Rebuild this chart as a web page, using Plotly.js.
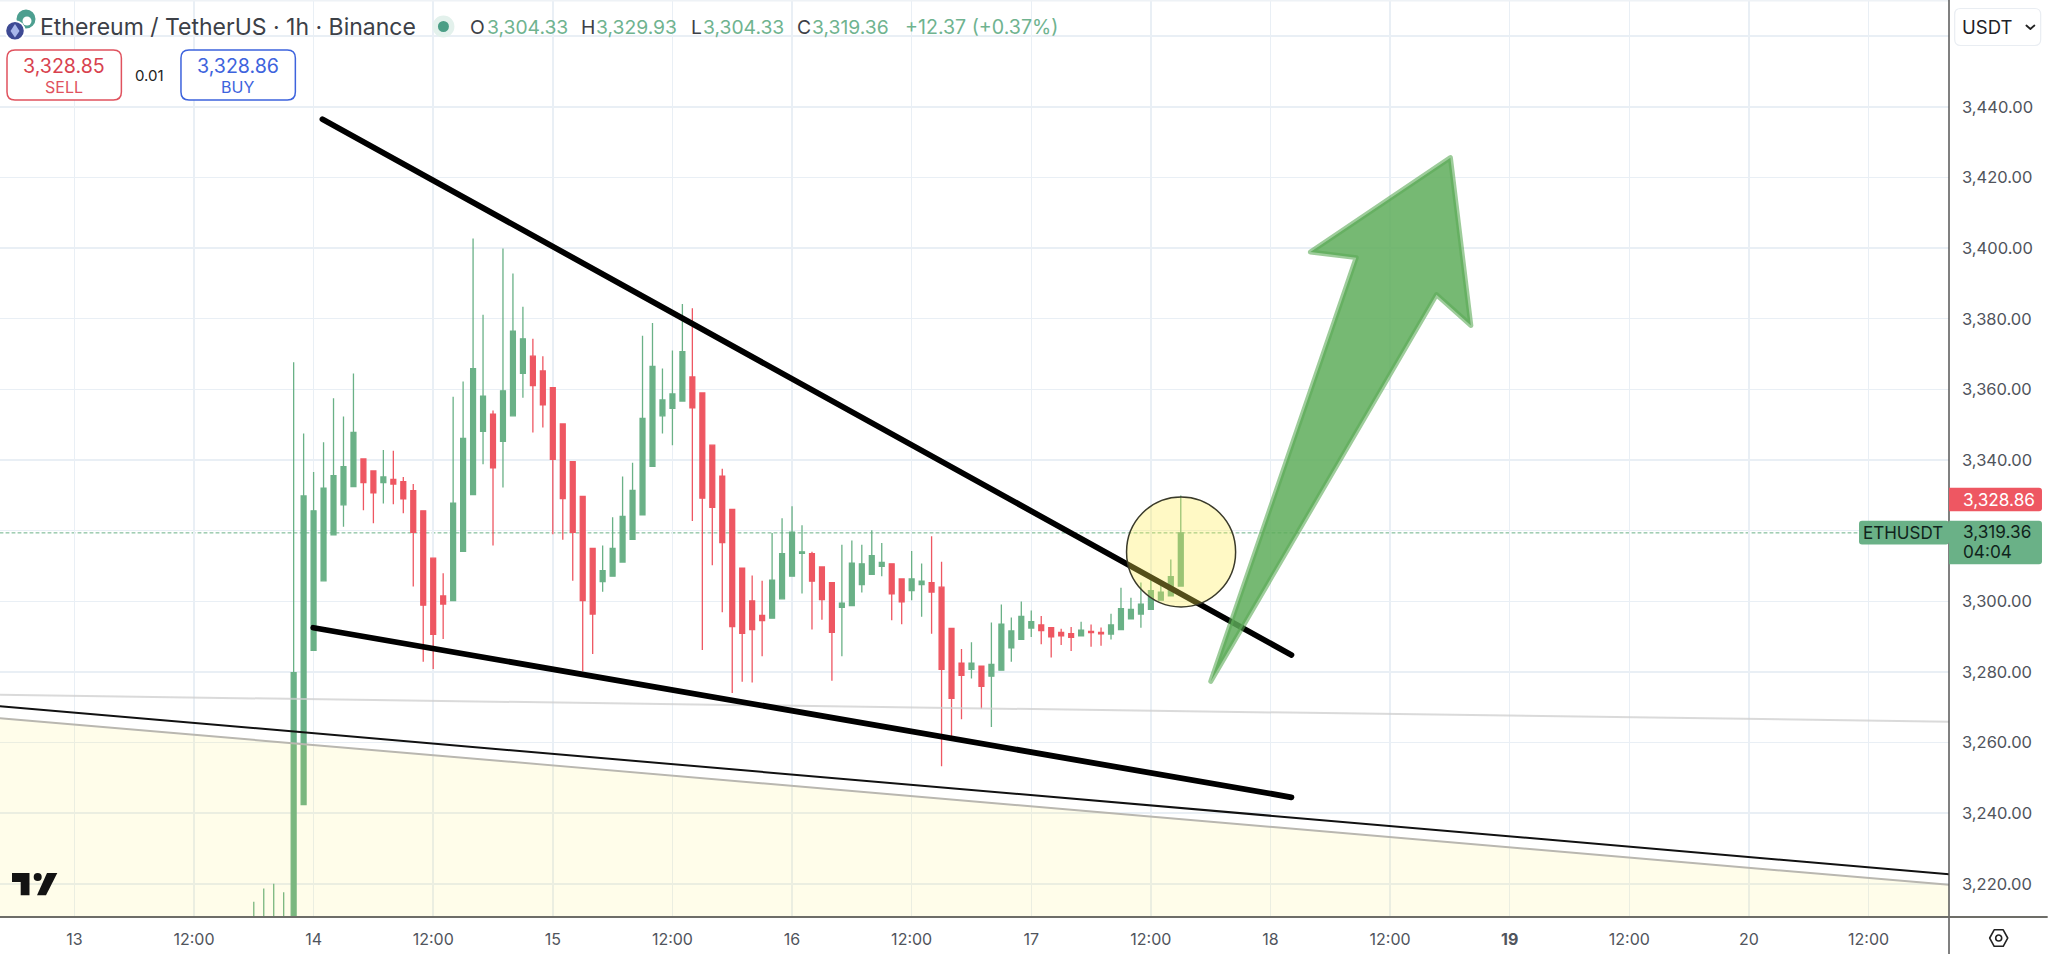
<!DOCTYPE html>
<html><head><meta charset="utf-8">
<script src="https://cdn.plot.ly/plotly-3.0.1.min.js"></script>
<style>html,body{margin:0;padding:0;background:#fff;overflow:hidden}#chart{width:2048px;height:954px}</style>
</head><body><div id="chart"></div>
<script>
// Hours are counted from day 13, 00:00
const firstHour = 18;
const opens = [3195,3196,3197,3198,3200,3242.4,3286.1,3305.8,3318.8,3327.3,3332.5,3340.3,3336.9,3333.6,3334.5,3333.9,3331.3,3325.6,3312.2,3301.5,3300.2,3314.1,3330.2,3348.1,3353,3345.3,3352.5,3364.5,3369.4,3365.2,3360.5,3350.2,3339.5,3329.7,3315,3305.6,3307.1,3311.1,3317.5,3324.5,3338.2,3352.5,3354.6,3356.7,3363.5,3359,3344.2,3335.4,3326,3309.4,3300.1,3296,3295.2,3300.7,3307.1,3313.6,3313.5,3309.7,3305.3,3298.3,3298.8,3304.7,3307.6,3309.9,3310.6,3306.3,3303,3304.7,3305.3,3304,3292.3,3282.5,3280.7,3281.6,3278.8,3280.5,3286.8,3289.2,3292.4,3293.3,3292.5,3291.2,3290.8,3290.2,3291.5,3291.2,3290.7,3292,3295,3296.4,3297.7,3300.3,3301.5,3304.33];
const highs = [3214.9,3218.7,3220,3217.6,3367.7,3347.5,3336.6,3345,3357.5,3352.3,3364.5,3340.3,3336.9,3342.8,3342.6,3335.2,3333.2,3325.6,3312.2,3307.9,3357.9,3362.2,3402.7,3381.1,3354,3399.9,3392.8,3383.4,3374.3,3369.4,3360.5,3350.2,3339.5,3329.7,3315,3315.8,3323.8,3335.3,3339.2,3375.2,3378.8,3365.9,3371,3384.2,3383,3359,3344.2,3337.5,3326,3309.4,3307.3,3305.8,3319.3,3323.5,3326.9,3321.5,3314,3309.7,3305.3,3316,3317.2,3316,3320.1,3316.5,3310.6,3306.3,3314.2,3310.7,3318.4,3311.2,3292.3,3286.5,3288.4,3281.6,3294,3299.1,3295.4,3299.9,3297.4,3295.8,3292.5,3292.2,3292.7,3294.2,3293.4,3292.6,3296.5,3303.8,3301,3305.3,3306.9,3305,3311.8,3329.93];
const lows = [3190,3190,3190,3190,3195,3242.4,3286.1,3305.8,3318.8,3321.1,3332.5,3325.8,3322.1,3327.7,3327.5,3324.9,3304.2,3282.9,3280.8,3289.3,3300.2,3314.1,3330.2,3338.8,3315.8,3332.2,3352.5,3357.6,3347.8,3349.2,3319,3317.4,3305.8,3280.2,3285.1,3302.7,3307.1,3311.1,3317.5,3324.5,3338.2,3347.5,3344.2,3356.7,3322.7,3286.2,3310.2,3296.9,3274,3277.2,3277,3284.4,3295.2,3300.7,3307.1,3302.2,3292,3294.8,3277.5,3284.4,3298.8,3302.5,3307.6,3307.1,3294.6,3293.5,3300.3,3295.6,3290.8,3253.3,3260.5,3266.6,3278.1,3269.6,3264.4,3280.5,3282.9,3289.2,3289.9,3287.8,3284.1,3287.6,3285.9,3290,3287.1,3287.4,3289.2,3292,3295,3292.5,3297.7,3300.3,3301.5,3304.33];
const closes = [3205,3206,3207,3208,3279.8,3329.8,3325.6,3332,3335.6,3338.1,3347.8,3333.6,3330.7,3335.2,3333.2,3329,3319.5,3298.9,3290.6,3299.2,3327.8,3346.1,3365.9,3358.1,3337.8,3359.6,3376.5,3374.3,3361.1,3355.6,3340.2,3329.1,3319.5,3300.2,3296.4,3308.7,3315,3324,3331.4,3351.8,3366.5,3357,3358.7,3370.7,3354.8,3329.2,3326.6,3316.6,3292.8,3290.9,3292,3294.5,3306,3313.5,3319.6,3314,3305.7,3300.5,3291.2,3299.5,3310.8,3310.6,3312.9,3311,3302.1,3299.8,3306.3,3305.7,3302.6,3280.7,3272.5,3279,3282.5,3275.9,3282.1,3293.5,3291.6,3295.7,3294.2,3291.7,3289.9,3290.2,3289.8,3291.8,3291.1,3290.8,3293.3,3297.9,3297.7,3299.2,3303,3302.6,3307,3319.36];
const hours = opens.map((_, i) => firstHour + i);

const xTickVals = [0,12,24,36,48,60,72,84,96,108,120,132,144,156,168,180];
const xTickText = ['13','12:00','14','12:00','15','12:00','16','12:00','17','12:00','18','12:00','<b>19</b>','12:00','20','12:00'];
const yTickVals = [3220,3240,3260,3280,3300,3320,3340,3360,3380,3400,3420,3440,3460];
const yTickText = ['3,220.00','3,240.00','3,260.00','3,280.00','3,300.00','','3,340.00','3,360.00','3,380.00','3,400.00','3,420.00','3,440.00',''];

// Hand-drawn overlays, in chart coordinates [hour, price]
const upperTrend = [[24.89,3436.5],[122.1,3284.8]];
const lowerTrend = [[23.97,3292.5],[122.1,3244.5]];
const zoneBlack = [[-7.46,3270.3],[188.07,3222.7]];
const zoneEdge = [[-7.46,3266.9],[188.07,3219.7]];
const zoneLight = [[-7.46,3273.5],[188.07,3265.9]];
const arrowPts = [[114.0,3277.3],[128.6,3397.3],[124.0,3398.9],[138.05,3425.6],[140.1,3378.1],[136.65,3386.8]];
const circleBox = [105.56,3329.55,116.5,3298.4];
const lastClose = 3319.36;
const xRange = [-7.46,188.07], yRange = [3210.6,3470.25];

const GREEN='#6ab187', RED='#ee5762', PW=1949.3, PH=916.7;
const px = x => x/PW, py = y => 1-y/PH;
const polyPath = pts => 'M'+pts.map(p=>p[0]+','+p[1]).join('L')+'Z';
const pixPoly = pts => polyPath(pts.map(p=>[px(p[0]),py(p[1])]));
function rrect(x0,y0,x1,y1,r,rl){
  const a=rl===false?0:r;
  const d=(X,Y)=>px(X)+','+py(Y);
  return 'M'+d(x0+a,y0)+'L'+d(x1-r,y0)+'Q'+d(x1,y0)+' '+d(x1,y0+r)+'L'+d(x1,y1-r)+'Q'+d(x1,y1)+' '+d(x1-r,y1)+'L'+d(x0+a,y1)+
    'Q'+d(x0,y1)+' '+d(x0,y1-a)+'L'+d(x0,y0+a)+'Q'+d(x0,y0)+' '+d(x0+a,y0)+'Z';
}
const pShape=(path,fill,lineColor,w)=>({type:'path',xref:'paper',yref:'paper',path,fillcolor:fill||'rgba(0,0,0,0)',line:{color:lineColor||'rgba(0,0,0,0)',width:w||0}});
const pCircle=(cx,cy,r,fill,lineColor,w)=>({type:'circle',xref:'paper',yref:'paper',x0:px(cx-r),x1:px(cx+r),y0:py(cy+r),y1:py(cy-r),fillcolor:fill,line:{color:lineColor||'rgba(0,0,0,0)',width:w||0}});
const seg=(a,color,w,extra)=>Object.assign({type:'line',xref:'x',yref:'y',x0:a[0][0],y0:a[0][1],x1:a[1][0],y1:a[1][1],line:{color,width:w}},extra||{});

const zoneBottom = yRange[0];
const shapes = [
  seg(zoneLight,'rgba(205,205,205,0.75)',2),
  seg([[xRange[0],lastClose],[xRange[1],lastClose]],GREEN,1,{layer:'below',line:{color:GREEN,width:1,dash:'dot'}}),
  {type:'path',xref:'x',yref:'y',path:polyPath([zoneEdge[0],zoneEdge[1],[xRange[1],zoneBottom],[xRange[0],zoneBottom]]),fillcolor:'rgba(255,235,60,0.11)',line:{width:0}},
  seg(zoneEdge,'#b9b7b0',2),
  seg(zoneBlack,'#111111',2),
  seg(upperTrend,'#000000',5.8),
  seg(lowerTrend,'#000000',5.8),
  {type:'circle',xref:'x',yref:'y',x0:circleBox[0],y0:circleBox[1],x1:circleBox[2],y1:circleBox[3],fillcolor:'rgba(255,236,80,0.33)',line:{color:'#3a3a2a',width:1.5}},
  {type:'path',xref:'x',yref:'y',path:polyPath(arrowPts),fillcolor:'rgba(92,172,88,0.84)',line:{color:'rgba(92,170,86,0.6)',width:5}},
  pShape(pixPoly([[0,0],[PW,0],[PW,1.5],[0,1.5]]),'#eef2f6'),
  pShape(pixPoly([[PW-0.7,0],[PW+0.7,0],[PW+0.7,954],[PW-0.7,954]]),'#4a4a4a'),
  pShape(pixPoly([[0,PH-0.9],[2048,PH-0.9],[2048,PH+0.9],[0,PH+0.9]]),'#6d6d68'),
  pShape(rrect(7,50,121.4,100,8),'#ffffff','#e0525e',1.5),
  pShape(rrect(181,50,295.4,100,8),'#ffffff','#3d63dd',1.5),
  pShape(rrect(1955,8.5,2041,45.5,6),'#ffffff','#e9edf2',1.2),
  pShape('M'+[[2026.7,25.5],[2030.7,29],[2034.7,25.5]].map(p=>px(p[0])+','+py(p[1])).join('L'),null,'#222222',1.8),
  pShape(rrect(1949.3,487.7,2042.3,511,3,false),RED),
  pShape(rrect(1949.3,520.7,2042.3,564,3,false),GREEN),
  pShape(rrect(1859.3,520.7,1949.3,544.3,3),GREEN),
  pCircle(443.5,26.5,11,'#e3f1ec'),
  pCircle(443.5,26.5,5.5,'#4b9e86'),
  pCircle(26,19,9.5,'#4d9f90'),
  pCircle(27,21,4.5,'#ffffff'),
  pCircle(15,30.7,10.5,'#ffffff'),
  pCircle(15,30.7,8.8,'#3e4a94'),
  pShape(pixPoly([[15,24],[19.5,31],[15,37.5],[10.5,31]]),'#a9b7ea'),
  pShape(pixPoly([[12,872.7],[29.5,872.7],[29.5,895],[20.7,895],[20.7,881.7],[12,881.7]]),'#131313'),
  pCircle(37.7,876.7,4,'#131313'),
  pShape(pixPoly([[47,872.7],[57.3,872.7],[46,895],[37,895]]),'#131313'),
  pShape(pixPoly([[1990,937.7],[1994.5,929.5],[2003.5,929.5],[2008,937.7],[2003.5,946],[1994.5,946]]),null,'#222222',1.6),
  pCircle(1999,937.7,3,'rgba(0,0,0,0)','#222222',1.6),
];

const FONT='Inter, "Noto Sans", sans-serif';
const note=(x,y,text,size,color,anchor)=>({xref:'paper',yref:'paper',x:px(x),y:py(y),text,showarrow:false,xanchor:anchor||'left',yanchor:'middle',borderpad:0,font:{family:FONT,size,color}});
const VAL='#6fb38f', LAB='#3c4047';
const annotations=[
  note(39.5,26.5,'Ethereum / TetherUS · 1h · Binance',23,'#3c4047'),
  note(469,26.5,'O',19.3,LAB), note(486,26.5,'3,304.33',19.3,VAL),
  note(580,26.5,'H',19.3,LAB), note(595,26.5,'3,329.93',19.3,VAL),
  note(690,26.5,'L',19.3,LAB), note(702.5,26.5,'3,304.33',19.3,VAL),
  note(796,26.5,'C',19.3,LAB), note(811,26.5,'3,319.36',19.3,VAL),
  note(904,26.5,'+12.37 (+0.37%)',19.6,VAL),
  note(64,65.5,'3,328.85',19.6,'#d8414e','center'),
  note(64,86.7,'SELL',16,'#e0525e','center'),
  note(150,75.3,'0.01',15,'#222222','center'),
  note(238,65.5,'3,328.86',19.6,'#3d63dd','center'),
  note(238,86.7,'BUY',16,'#3d63dd','center'),
  note(1961.7,27.3,'USDT',18.5,'#1e2127'),
  note(1962,499.3,'3,328.86',17.2,'#ffffff'),
  note(1962,531.7,'3,319.36',17.2,'#10241c'),
  note(1962,551,'04:04',17.2,'#10241c'),
  note(1903.5,532.4,'ETHUSDT',17,'#10241c','center'),
];

const data=[{
  type:'candlestick',x:hours,open:opens,high:highs,low:lows,close:closes,
  increasing:{line:{color:GREEN,width:1.3},fillcolor:GREEN},
  decreasing:{line:{color:RED,width:1.3},fillcolor:RED},
  whiskerwidth:0,hoverinfo:'skip',showlegend:false
}];

const layout={
  width:2048,height:954,margin:{l:0,r:98.7,t:0,b:37.3,pad:0},
  paper_bgcolor:'#ffffff',plot_bgcolor:'#ffffff',showlegend:false,boxgap:0.3,
  font:{family:FONT,color:'#50545c',size:16.5},
  xaxis:{type:'linear',range:xRange,tickmode:'array',tickvals:xTickVals,ticktext:xTickText,showgrid:true,gridcolor:'#e9eff5',gridwidth:1.5,
    zeroline:false,showline:false,ticks:'',rangeslider:{visible:false},ticklabelstandoff:11,tickfont:{family:FONT,size:16,color:'#50545c'},fixedrange:true},
  yaxis:{type:'linear',side:'right',range:yRange,tickmode:'array',tickvals:yTickVals,ticktext:yTickText,showgrid:true,gridcolor:'#e9eff5',gridwidth:1.5,
    zeroline:false,showline:false,ticks:'',ticklabelstandoff:12,tickfont:{family:FONT,size:16.5,color:'#50545c'},fixedrange:true},
  shapes,annotations
};
Plotly.newPlot('chart',data,layout,{displayModeBar:false,staticPlot:true}).then(()=>{
  document.querySelectorAll('.shapelayer path').forEach(p=>{p.style.strokeLinecap='round';p.style.strokeLinejoin='round';});
});
</script></body></html>
